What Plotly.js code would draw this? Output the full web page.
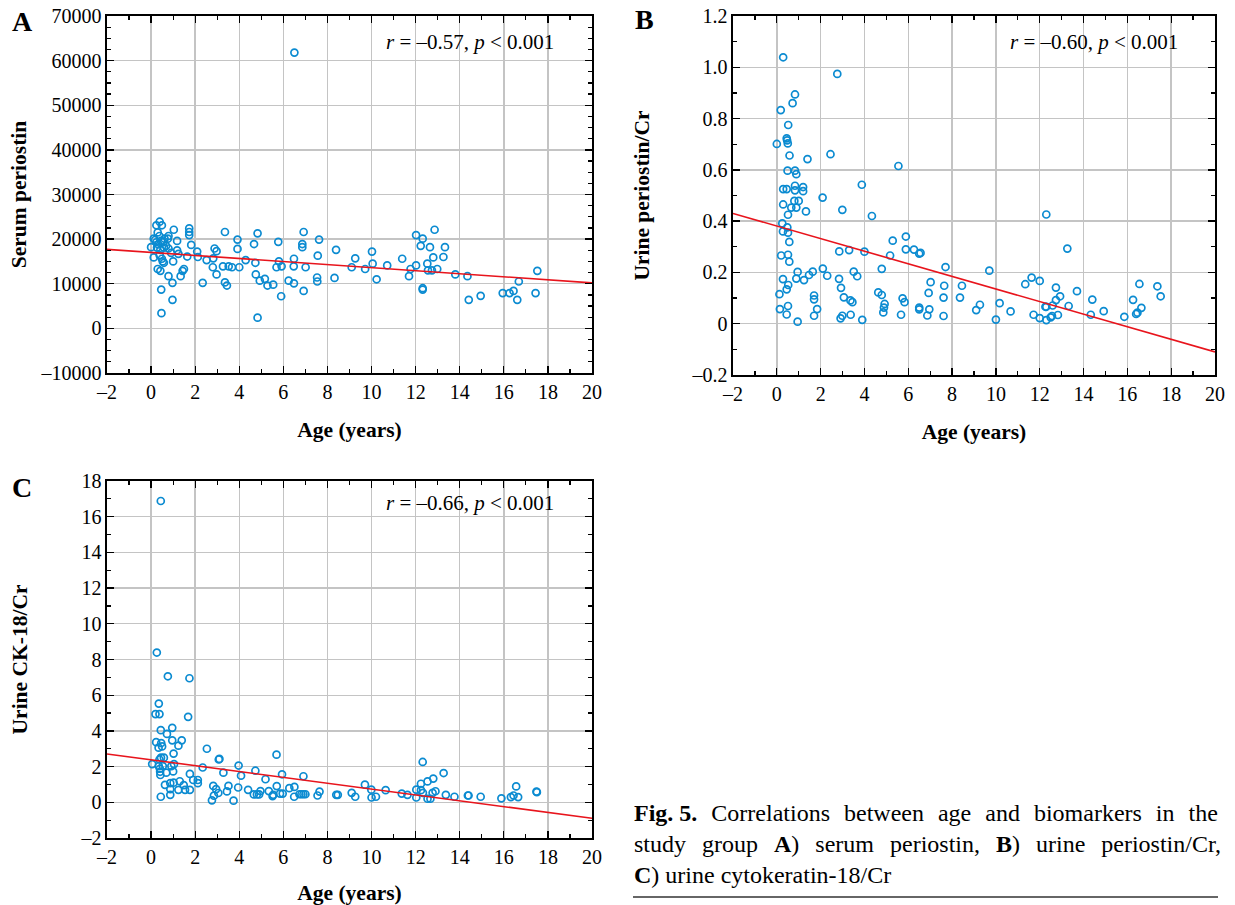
<!DOCTYPE html>
<html>
<head>
<meta charset="utf-8">
<script src="https://cdn.plot.ly/plotly-3.0.1.min.js"></script>
<style>html,body{margin:0;padding:0;background:#fff;}#chart{width:1235px;height:905px;}</style>
</head>
<body>
<div id="chart"></div>
<script>
// ---------- Data ----------
const ageA = [0.0,0.12,0.12,0.24,0.39,0.49,0.30,0.38,0.24,0.18,0.33,0.46,0.55,0.27,0.42,0.58,0.68,0.61,0.76,0.39,0.49,0.53,0.58,0.30,0.42,0.46,0.47,0.79,0.97,0.97,1.03,1.18,1.18,1.24,1.0,0.79,0.79,0.91,1.34,1.43,1.49,1.73,1.73,1.73,1.82,1.64,2.09,2.12,2.34,2.52,2.82,2.88,2.97,2.80,2.97,3.35,3.26,3.35,3.44,3.52,3.67,3.92,3.92,4.0,4.29,4.67,4.83,4.73,4.75,4.93,4.83,5.16,5.28,5.54,5.77,5.80,5.69,5.92,5.90,6.24,6.48,6.47,6.48,6.50,6.92,6.86,6.86,7.01,6.92,7.62,7.56,7.53,7.54,8.32,8.39,9.10,9.26,9.71,10.02,10.05,10.23,10.71,11.39,11.70,11.77,12.02,12.02,12.23,12.32,12.32,12.32,12.53,12.56,12.65,12.74,12.80,12.86,12.98,13.26,13.33,13.80,14.35,14.41,14.95,15.95,16.26,16.44,16.61,16.68,17.44,17.52];
const serumPeriostin = [18200,20100,15900,23100,23900,23100,21500,20700,19300,19800,18800,19600,19300,18100,17600,18100,18500,20100,20100,16400,15600,15000,14700,13300,12900,8700,3400,11700,10200,6400,22100,19600,17500,16700,15000,17900,20700,16900,11700,12900,13300,22400,21600,20900,18700,16100,17200,16000,10200,15300,15700,17900,17300,13700,12100,21600,13900,10300,9600,13900,13700,19900,17800,13700,15300,18900,21300,14700,12100,10700,2400,11100,9600,9800,19400,15000,13700,13900,7200,10700,15600,13900,10100,61800,21600,18900,18200,13700,8400,19900,16300,11400,10500,11300,17600,13700,15700,13300,17200,14500,11000,14100,15600,11700,13300,20900,14100,18500,20100,9000,8700,14500,13000,18200,13000,15900,22100,13300,16000,18200,12100,11700,6400,7300,7900,7900,8400,6400,10500,7900,12900];

const ageB = [0.29,2.76,0.83,0.72,0.18,0.52,0.45,0.47,0.50,0.0,0.58,1.40,2.45,5.55,0.49,0.83,0.89,0.29,0.45,0.83,0.83,1.20,1.20,3.88,0.29,0.80,1.0,0.66,0.89,1.33,2.09,2.99,4.34,0.51,0.25,0.48,0.28,0.51,0.57,5.29,5.89,5.89,5.17,0.20,0.51,0.57,2.85,3.30,4.0,4.79,0.95,2.10,1.64,1.47,1.24,0.89,0.28,0.52,0.45,0.12,2.30,2.84,2.93,3.06,3.51,3.67,1.70,1.70,3.36,3.45,4.63,4.79,4.92,4.89,4.86,5.74,5.83,0.14,0.51,0.45,0.95,1.84,1.70,2.91,2.99,3.37,3.90,5.67,6.26,6.50,6.56,7.70,9.70,12.30,13.26,7.02,6.93,6.50,6.50,6.96,6.87,7.64,7.61,7.61,8.45,8.36,9.27,9.10,10.17,10.0,10.67,11.34,11.63,12.0,11.72,12.0,12.30,12.50,12.56,12.83,12.26,12.30,12.59,12.74,12.93,12.74,13.32,13.70,14.33,14.40,14.92,15.86,16.26,16.40,16.46,16.64,16.55,17.37,17.52];
const urinePeriostinCr = [1.039,0.974,0.894,0.860,0.833,0.775,0.723,0.715,0.703,0.701,0.656,0.642,0.661,0.615,0.597,0.597,0.583,0.525,0.525,0.538,0.520,0.533,0.517,0.542,0.465,0.479,0.479,0.453,0.453,0.438,0.492,0.444,0.420,0.425,0.391,0.376,0.360,0.355,0.319,0.324,0.340,0.290,0.266,0.266,0.269,0.242,0.282,0.287,0.281,0.214,0.202,0.215,0.203,0.190,0.170,0.176,0.174,0.151,0.134,0.115,0.187,0.175,0.140,0.103,0.203,0.185,0.110,0.095,0.091,0.084,0.122,0.112,0.077,0.063,0.044,0.099,0.084,0.057,0.069,0.036,0.008,0.057,0.031,0.021,0.031,0.035,0.015,0.035,0.289,0.273,0.276,0.221,0.207,0.426,0.293,0.162,0.120,0.063,0.056,0.056,0.032,0.148,0.102,0.030,0.148,0.102,0.074,0.053,0.080,0.016,0.048,0.154,0.180,0.167,0.035,0.022,0.014,0.025,0.030,0.034,0.066,0.066,0.071,0.092,0.107,0.141,0.069,0.127,0.035,0.094,0.049,0.027,0.093,0.038,0.043,0.062,0.155,0.146,0.107];

const ageC = [0.44,0.26,0.76,1.74,0.35,0.20,0.38,1.68,0.96,0.44,0.72,0.23,0.46,0.50,0.96,1.24,1.39,0.34,1.02,2.53,3.10,3.07,5.69,0.45,0.58,0.38,0.05,1.04,0.35,0.53,0.92,2.34,3.97,4.73,0.40,0.41,0.42,0.69,1.0,3.28,1.76,4.08,5.19,1.91,2.12,2.12,0.63,0.87,1.02,1.30,1.48,1.24,1.54,1.76,0.87,0.87,2.82,2.95,3.51,3.44,3.95,4.40,4.66,4.80,4.90,4.96,5.34,5.54,0.44,2.85,3.05,2.76,3.74,5.51,5.70,5.85,5.97,5.94,6.27,6.50,6.49,6.73,6.82,6.91,7.0,6.91,7.55,7.64,8.40,8.47,9.10,9.26,9.70,9.99,10.0,10.2,10.64,11.37,11.63,12.03,12.03,12.24,12.24,12.32,12.33,12.54,12.54,12.67,12.80,12.77,12.90,13.27,13.37,13.76,14.37,14.40,14.95,15.89,16.32,16.44,16.56,16.65,17.48,17.50];
const urineCK18Cr = [16.88,8.39,7.06,6.95,5.53,4.94,4.94,4.79,4.17,4.04,3.83,3.37,3.32,3.13,3.47,3.17,3.47,3.06,2.73,3.0,2.43,2.40,2.67,2.50,2.50,2.40,2.14,2.14,2.03,2.03,2.03,1.95,2.06,1.77,1.88,1.71,1.53,1.66,1.73,1.66,1.59,1.49,1.29,1.25,1.25,1.07,0.98,1.07,1.10,1.18,0.96,0.70,0.70,0.70,0.74,0.42,0.92,0.74,0.92,0.61,0.83,0.70,0.44,0.44,0.44,0.63,0.63,0.42,0.31,0.37,0.52,0.11,0.09,0.35,0.91,0.49,0.49,1.57,0.79,0.86,0.31,0.45,0.45,0.45,0.45,1.46,0.38,0.60,0.42,0.42,0.53,0.31,0.99,0.71,0.27,0.31,0.68,0.49,0.42,0.71,0.27,1.04,0.68,2.26,0.53,1.17,0.20,0.20,1.33,0.53,0.62,1.64,0.42,0.31,0.38,0.38,0.31,0.22,0.29,0.38,0.89,0.29,0.60,0.57];

// regression fits: [intercept, slope]
const fitA = [17020, -341];
const fitB = [0.381, -0.02455];
const fitC = [2.382, -0.164];
const fitRange = [-2, 20];

const statsA = "<i>r</i> = –0.57, <i>p</i> &lt; 0.001";
const statsB = "<i>r</i> = –0.60, <i>p</i> &lt; 0.001";
const statsC = "<i>r</i> = –0.66, <i>p</i> &lt; 0.001";

const xTickVals = [-2,0,2,4,6,8,10,12,14,16,18,20];
const xTickText = ["–2","0","2","4","6","8","10","12","14","16","18","20"];
const yTickValsA = [-10000,0,10000,20000,30000,40000,50000,60000,70000];
const yTickTextA = ["–10000","0","10000","20000","30000","40000","50000","60000","70000"];
const yTickValsB = [-0.2,0,0.2,0.4,0.6,0.8,1.0,1.2];
const yTickTextB = ["–0.2","0","0.2","0.4","0.6","0.8","1.0","1.2"];
const yTickValsC = [-2,0,2,4,6,8,10,12,14,16,18];
const yTickTextC = ["–2","0","2","4","6","8","10","12","14","16","18"];

// caption lines (justified with extra spaces)
const captionLines = [
  ["<b>Fig. 5.</b>", "Correlations", "between", "age", "and", "biomarkers", "in", "the"],
  ["study", "group", "<b>A</b>)", "serum", "periostin,", "<b>B</b>)", "urine", "periostin/Cr,"],
  ["<b>C</b>)", "urine", "cytokeratin-18/Cr"]
];

// ---------- Build ----------
const blue = "#0b8bd1";
const red = "#e8141c";
const FONT = "Liberation Serif, Times New Roman, serif";

function scatter(x, y, xa, ya) {
  return {x: x, y: y, xaxis: xa, yaxis: ya, type: "scatter", mode: "markers",
    marker: {symbol: "circle-open", size: 7, color: blue, line: {width: 1.7, color: blue}},
    hoverinfo: "x+y", showlegend: false};
}
function fitLine(fit, xa, ya) {
  return {x: fitRange, y: fitRange.map(v => fit[0] + fit[1] * v), xaxis: xa, yaxis: ya,
    type: "scatter", mode: "lines", line: {color: red, width: 1.6}, hoverinfo: "skip", showlegend: false};
}

const data = [
  scatter(ageA, serumPeriostin, "x", "y"), fitLine(fitA, "x", "y"),
  scatter(ageB, urinePeriostinCr, "x2", "y2"), fitLine(fitB, "x2", "y2"),
  scatter(ageC, urineCK18Cr, "x3", "y3"), fitLine(fitC, "x3", "y3")
];

const TITLE_FONT = {family: FONT, size: 21.5, color: "#000"};

function xaxis(domain, anchor) {
  return {domain: domain, anchor: anchor, range: [-2, 20], tickvals: xTickVals, ticktext: xTickText,
    ticks: "inside", ticklen: 7, tickwidth: 1.3, tickcolor: "#000",
    minor: {dtick: 1, tick0: 0, ticks: "inside", ticklen: 4, tickwidth: 1.2, tickcolor: "#000", showgrid: false},
    showline: true, linecolor: "#000", linewidth: 1.6, mirror: "ticks",
    showgrid: true, gridcolor: "#c4c4c4", gridwidth: 1.4, zeroline: false,
    tickfont: {family: FONT, size: 20, color: "#000"},
    title: {text: "<b>Age (years)</b>", font: TITLE_FONT, standoff: 20},
    automargin: false, fixedrange: true};
}
function yaxis(domain, anchor, range, vals, text, minorDt, title, standoff) {
  return {domain: domain, anchor: anchor, range: range, tickvals: vals, ticktext: text,
    ticks: "inside", ticklen: 7, tickwidth: 1.3, tickcolor: "#000",
    minor: {dtick: minorDt, tick0: 0, ticks: "inside", ticklen: 4, tickwidth: 1.2, tickcolor: "#000", showgrid: false},
    showline: true, linecolor: "#000", linewidth: 1.6, mirror: "ticks",
    showgrid: true, gridcolor: "#c4c4c4", gridwidth: 1.4, zeroline: false,
    tickfont: {family: FONT, size: 20, color: "#000"},
    title: {text: "<b>" + title + "</b>", font: TITLE_FONT, standoff: standoff},
    automargin: false, fixedrange: true};
}

const W = 1235, H = 905;
const dxL = [107 / W, 592 / W];
const dxR = [733 / W, 1215 / W];
const dyTop = [1 - 373 / H, 1 - 16 / H];
const dyTopB = [1 - 375 / H, 1 - 16 / H];
const dyBot = [1 - 838 / H, 1 - 481 / H];

const gapJust = ["&nbsp;&#8202;", "&nbsp;&#8198;", ""];
const captionText = captionLines.map((ws, i) => ws.join(" " + gapJust[i])).join("<br>");

const layout = {
  width: W, height: H,
  margin: {l: 0, r: 0, t: 0, b: 0},
  paper_bgcolor: "#fff", plot_bgcolor: "#fff",
  font: {family: FONT, color: "#000"},
  showlegend: false,
  xaxis: xaxis(dxL, "y"),
  yaxis: yaxis(dyTop, "x", [-10000, 70000], yTickValsA, yTickTextA, 2500, "Serum periostin", 8),
  xaxis2: xaxis(dxR, "y2"),
  yaxis2: yaxis(dyTopB, "x2", [-0.2, 1.2], yTickValsB, yTickTextB, 0.1, "Urine periostin/Cr", 36),
  xaxis3: xaxis(dxL, "y3"),
  yaxis3: yaxis(dyBot, "x3", [-2, 18], yTickValsC, yTickTextC, 1, "Urine CK-18/Cr", 47),
  annotations: [
    {text: statsA, xref: "x domain", yref: "y domain", x: 0.926, y: 0.927, xanchor: "right", yanchor: "middle", showarrow: false, font: {family: FONT, size: 21, color: "#000"}},
    {text: statsB, xref: "x2 domain", yref: "y2 domain", x: 0.927, y: 0.927, xanchor: "right", yanchor: "middle", showarrow: false, font: {family: FONT, size: 21, color: "#000"}},
    {text: statsC, xref: "x3 domain", yref: "y3 domain", x: 0.926, y: 0.938, xanchor: "right", yanchor: "middle", showarrow: false, font: {family: FONT, size: 21, color: "#000"}},
    {text: "<b>A</b>", xref: "paper", yref: "paper", x: 10 / W, y: 1 - 22 / H, xanchor: "left", yanchor: "middle", showarrow: false, font: {family: FONT, size: 28, color: "#000"}},
    {text: "<b>B</b>", xref: "paper", yref: "paper", x: 633 / W, y: 1 - 20 / H, xanchor: "left", yanchor: "middle", showarrow: false, font: {family: FONT, size: 28, color: "#000"}},
    {text: "<b>C</b>", xref: "paper", yref: "paper", x: 10 / W, y: 1 - 487 / H, xanchor: "left", yanchor: "middle", showarrow: false, font: {family: FONT, size: 28, color: "#000"}},
    {text: captionText,
      xref: "paper", yref: "paper", x: 632 / W, y: 1 - 798 / H, xanchor: "left", yanchor: "top", align: "left", showarrow: false,
      font: {family: FONT, size: 24, color: "#000"}}
  ],
  shapes: [
    {type: "line", xref: "paper", yref: "paper", x0: 633 / W, x1: 1218 / W, y0: 1 - 897 / H, y1: 1 - 897 / H, line: {color: "#333", width: 1.5}}
  ]
};

Plotly.newPlot("chart", data, layout, {displayModeBar: false, staticPlot: true});
</script>
</body>
</html>
